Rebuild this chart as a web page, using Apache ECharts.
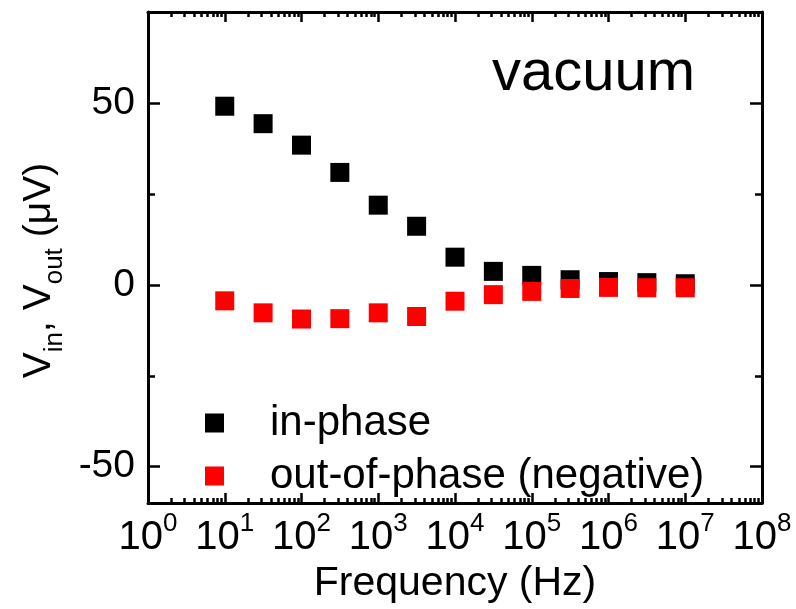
<!DOCTYPE html>
<html>
<head>
<meta charset="utf-8">
<script src="https://cdn.jsdelivr.net/npm/echarts@6/dist/echarts.min.js"></script>
<style>html,body{margin:0;padding:0;background:#fff}#c{width:796px;height:609px}</style>
</head>
<body>
<div id="c"></div>
<script>
var frequency = [10, 31.6, 100, 316, 1000, 3160, 10000, 31600, 100000, 316000, 1000000, 3160000, 10000000];
var inPhase = [49.1, 44.3, 38.4, 30.9, 21.9, 16.1, 7.6, 3.7, 2.6, 1.4, 0.9, 0.6, 0.3];
var outPhase = [-4.4, -7.7, -9.4, -9.3, -7.7, -8.7, -4.5, -2.7, -1.8, -1.0, -0.7, -0.8, -0.8];
var yMajorTicks = [-50, 0, 50];
var yMinorTicks = [-25, 25];
var xDecades = [0, 1, 2, 3, 4, 5, 6, 7, 8];
var seriesNames = ['in-phase', 'out-of-phase (negative)'];

var FONT = 'Liberation Sans, Arial, sans-serif';
var minorX = [];
xDecades.forEach(function (d) {
  if (d < 8) for (var k = 2; k <= 9; k++) minorX.push(d + Math.log10(k));
});
function pair(a, b) { return a.map(function (v, i) { return [v, b[i]]; }); }

var chart = echarts.init(document.getElementById('c'));
var lineStyle = { color: '#000', width: 3 };
chart.setOption({
  animation: false,
  backgroundColor: '#fff',
  title: {
    text: 'vacuum', left: 492, top: 45, padding: 0,
    textStyle: { fontFamily: FONT, fontSize: 58, fontWeight: 'normal', color: '#000' }
  },
  legend: {
    orient: 'vertical', left: 200, top: 397, itemWidth: 19, itemHeight: 19, itemGap: 11,
    icon: 'rect', data: seriesNames,
    itemStyle: { opacity: 1 },
    textStyle: { fontFamily: FONT, fontSize: 42, color: '#000', padding: [0, 0, 0, 41] }
  },
  grid: { left: 148, right: 34, top: 12, bottom: 103, containLabel: false },
  xAxis: [
    {
      type: 'log', logBase: 10, min: 1, max: 100000000, position: 'bottom',
      name: 'Frequency (Hz)', nameLocation: 'middle', nameGap: 54,
      nameTextStyle: { fontFamily: FONT, fontSize: 41, color: '#000' },
      axisLine: { onZero: false, lineStyle: lineStyle },
      axisTick: { inside: true, length: 10, lineStyle: { color: '#000', width: 2.5 } },
      axisLabel: {
        margin: 8,
        formatter: function (v) { return '{b|10}{s|' + Math.round(Math.log10(v)) + '}'; },
        rich: {
          b: { fontFamily: FONT, fontSize: 40, lineHeight: 54, color: '#000' },
          s: { fontFamily: FONT, fontSize: 26, verticalAlign: 'top', color: '#000' }
        }
      },
      splitLine: { show: false }, minorTick: { show: false }
    },
    {
      type: 'value', min: 0, max: 8, position: 'bottom',
      axisLine: { show: false, onZero: false },
      axisTick: { inside: true, length: 5, customValues: minorX, lineStyle: { color: '#000', width: 2.5 } },
      axisLabel: { show: false }, splitLine: { show: false }
    },
    {
      type: 'log', logBase: 10, min: 1, max: 100000000, position: 'top',
      axisLine: { onZero: false, lineStyle: lineStyle },
      axisTick: { inside: true, length: 10, lineStyle: { color: '#000', width: 2.5 } },
      axisLabel: { show: false }, splitLine: { show: false }
    },
    {
      type: 'value', min: 0, max: 8, position: 'top',
      axisLine: { show: false, onZero: false },
      axisTick: { inside: true, length: 5, customValues: minorX, lineStyle: { color: '#000', width: 2.5 } },
      axisLabel: { show: false }, splitLine: { show: false }
    }
  ],
  yAxis: [
    {
      type: 'value', min: -60, max: 75, position: 'left',
      name: '{b|V}{s|in}{b|, V}{s|out}{b| (\u03bcV)}{g| }', nameLocation: 'middle', nameGap: 65, nameRotate: 90,
      nameTextStyle: {
        rich: {
          b: { fontFamily: FONT, fontSize: 39, lineHeight: 56, color: '#000' },
          s: { fontFamily: FONT, fontSize: 26, verticalAlign: 'bottom', color: '#000' },
          g: { fontFamily: FONT, fontSize: 39, width: 26 }
        }
      },
      axisLine: { onZero: false, lineStyle: lineStyle },
      axisTick: { inside: true, length: 12, customValues: yMajorTicks, lineStyle: { color: '#000', width: 2.5 } },
      axisLabel: { customValues: yMajorTicks, margin: 13, fontFamily: FONT, fontSize: 39, color: '#000' },
      splitLine: { show: false }
    },
    {
      type: 'value', min: -60, max: 75, position: 'left',
      axisLine: { show: false, onZero: false },
      axisTick: { inside: true, length: 7, customValues: yMinorTicks, lineStyle: { color: '#000', width: 2.5 } },
      axisLabel: { show: false }, splitLine: { show: false }
    },
    {
      type: 'value', min: -60, max: 75, position: 'right',
      axisLine: { onZero: false, lineStyle: lineStyle },
      axisTick: { inside: true, length: 12, customValues: yMajorTicks, lineStyle: { color: '#000', width: 2.5 } },
      axisLabel: { show: false }, splitLine: { show: false }
    },
    {
      type: 'value', min: -60, max: 75, position: 'right',
      axisLine: { show: false, onZero: false },
      axisTick: { inside: true, length: 7, customValues: yMinorTicks, lineStyle: { color: '#000', width: 2.5 } },
      axisLabel: { show: false }, splitLine: { show: false }
    }
  ],
  series: [
    {
      name: seriesNames[0], type: 'scatter', xAxisIndex: 0, yAxisIndex: 0,
      symbol: 'rect', symbolSize: 19, itemStyle: { color: '#000', opacity: 1 },
      data: pair(frequency, inPhase), z: 2
    },
    {
      name: seriesNames[1], type: 'scatter', xAxisIndex: 0, yAxisIndex: 0,
      symbol: 'rect', symbolSize: 19, itemStyle: { color: '#ff0000', opacity: 1 },
      data: pair(frequency, outPhase), z: 3
    }
  ]
});
</script>
</body>
</html>
